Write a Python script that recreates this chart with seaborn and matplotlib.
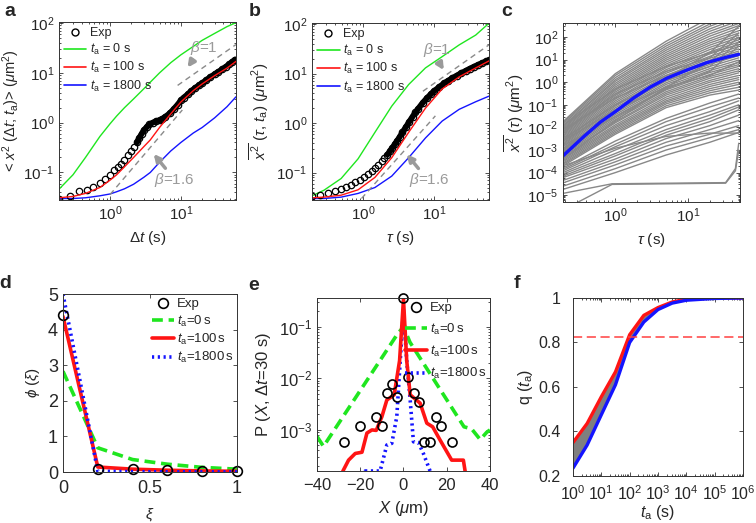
import matplotlib
matplotlib.use('Agg')
import matplotlib.pyplot as plt
from matplotlib.lines import Line2D
from matplotlib.ticker import LogLocator, FixedLocator, NullFormatter
import seaborn as sns
import pandas as pd
import numpy as np

# ---------------- data ----------------
GREEN = '#1fe61f'
RED = '#ff1414'
BLUE = '#1414ff'
GRAY = '#888888'
ARROW = '#9a9a9a'

# panel a: ensemble averaged MSD
a_exp_t = [0.19, 0.27, 0.37, 0.47, 0.58, 0.72, 0.85, 1.0, 1.15, 1.3, 1.45, 1.6, 1.8, 2.0, 2.2, 2.4,
           2.6, 2.8, 3.0, 3.3, 3.6, 4.0, 4.5, 5.0, 5.5, 6.0, 7.0, 8.0, 9.0, 10, 11, 12.5, 14, 16,
           18, 20, 23, 26, 30, 34, 38, 43, 48, 53, 58]
a_exp_v = [0.030, 0.034, 0.042, 0.045, 0.051, 0.062, 0.075, 0.09, 0.11, 0.13, 0.15, 0.18, 0.22,
           0.27, 0.33, 0.4, 0.5, 0.6, 0.7, 0.82, 0.92, 1.0, 1.07, 1.12, 1.2, 1.3, 1.55, 1.9, 2.3,
           2.8, 3.2, 3.7, 4.3, 5.0, 5.6, 6.2, 7.2, 8.2, 9.4, 10.5, 11.7, 13.2, 14.8, 16.5, 18.5]
a_t = [0.19, 0.3, 0.45, 0.72, 1.0, 1.24, 1.6, 2.15, 3.0, 3.7, 5.0, 7.2, 10, 15, 20, 30, 45, 60]
a_green = [0.046, 0.09, 0.2, 0.53, 0.95, 1.36, 2.0, 3.0, 4.8, 6.5, 10, 16, 23, 34, 45, 62, 85, 102]
a_red = [0.031, 0.033, 0.038, 0.05, 0.07, 0.09, 0.13, 0.2, 0.33, 0.45, 0.8, 1.5, 2.6, 4.4, 6.0,
         8.8, 12.5, 17]
a_blue = [0.030, 0.030, 0.031, 0.034, 0.037, 0.041, 0.047, 0.058, 0.08, 0.1, 0.16, 0.27, 0.4,
          0.62, 0.8, 1.25, 2.1, 3.3]
a_beta1 = ([9.0, 60], [5.6, 37])
a_beta16 = ([1.0, 10.5], [0.036, 1.8])

# panel b: time averaged MSD
b_exp_t = [0.19, 0.25, 0.32, 0.4, 0.48, 0.57, 0.67, 0.78, 0.9, 1.03, 1.17, 1.32, 1.48, 1.65, 1.83,
           2.0, 2.2, 2.4, 2.6, 2.8, 3.0, 3.3, 3.6, 4.0, 4.5, 5.0, 5.5, 6.0, 7.0, 8.0, 9.0, 10, 12,
           14, 16, 18, 21, 24, 28, 32, 37, 42, 48, 55, 60]
b_exp_v = [0.034, 0.036, 0.039, 0.042, 0.046, 0.051, 0.057, 0.064, 0.072, 0.082, 0.094, 0.108,
           0.125, 0.145, 0.168, 0.195, 0.23, 0.27, 0.32, 0.37, 0.43, 0.53, 0.65, 0.82, 1.07, 1.35,
           1.65, 1.95, 2.6, 3.2, 3.8, 4.4, 5.4, 6.4, 7.2, 8.0, 9.1, 10.1, 11.3, 12.5, 13.8, 15.0,
           16.3, 17.6, 18.5]
b_t = [0.19, 0.28, 0.49, 0.85, 1.47, 2.54, 4.4, 7.6, 13.1, 22.8, 39, 60]
b_green = [0.034, 0.044, 0.076, 0.19, 0.65, 2.2, 6.0, 13, 22, 38, 60, 104]
b_red = [0.031, 0.032, 0.035, 0.045, 0.08, 0.2, 0.65, 2.0, 4.9, 8.6, 13, 18]
b_blue = [0.030, 0.030, 0.032, 0.038, 0.05, 0.085, 0.2, 0.5, 1.1, 1.9, 2.7, 3.5]
b_beta1 = ([7.0, 60], [4.4, 38])
b_beta16 = ([0.95, 10.5], [0.03, 1.4])

# panel c: single trajectory time averaged MSDs, values at c_tau
c_tau = [0.19, 1, 5, 20, 50]
c_gray = [
    [0.018, 2.4, 65, 700, 2500], [0.016, 2.0, 50, 500, 1800], [0.014, 1.6, 40, 380, 1200],
    [0.012, 1.3, 32, 300, 900], [0.011, 1.1, 26, 230, 700], [0.0095, 0.9, 21, 180, 520],
    [0.0085, 0.75, 17, 140, 400], [0.0075, 0.62, 14, 110, 320], [0.0065, 0.52, 11.5, 85, 250],
    [0.0058, 0.44, 9.5, 68, 190], [0.005, 0.37, 7.8, 55, 150], [0.0044, 0.31, 6.4, 44, 120],
    [0.0039, 0.26, 5.3, 35, 95], [0.0034, 0.22, 4.4, 28, 75], [0.003, 0.18, 3.6, 22, 60],
    [0.0026, 0.15, 3.0, 18, 48], [0.0023, 0.125, 2.5, 14, 38], [0.002, 0.105, 2.0, 11.5, 30],
    [0.0018, 0.088, 1.7, 9.5, 24], [0.0016, 0.074, 1.4, 7.5, 19], [0.0014, 0.062, 1.15, 6.2, 15],
    [0.0012, 0.052, 0.95, 5, 12], [0.0011, 0.044, 0.8, 4, 9.5], [0.00095, 0.037, 0.66, 3.3, 7.5],
    [0.00085, 0.031, 0.55, 2.7, 6], [0.00075, 0.026, 0.46, 2.2, 5], [0.00065, 0.022, 0.38, 1.8, 4],
    [0.00058, 0.018, 0.32, 1.5, 3.2], [0.0005, 0.016, 0.27, 1.2, 2.6], [0.00044, 0.013, 0.22, 1.0, 2.0],
    [0.00039, 0.011, 0.18, 0.8, 1.6], [0.00034, 0.0095, 0.15, 0.65, 1.3], [0.0003, 0.008, 0.13, 0.52, 1.0],
    [0.00026, 0.0068, 0.11, 0.42, 0.8], [0.00023, 0.0058, 0.09, 0.34, 0.6], [0.0002, 0.005, 0.075, 0.27, 0.45],
    [0.003, 0.1, 1.2, 5, 60], [0.006, 0.3, 3, 12, 150], [0.001, 0.05, 1.5, 20, 300],
    [0.0015, 0.03, 0.5, 3, 40], [0.008, 0.2, 2, 8, 20], [0.0004, 0.02, 0.6, 8, 100],
    [0.0025, 0.06, 0.6, 2, 8], [0.012, 0.5, 5, 20, 45],
    [1.6e-4, 2.5e-3, 0.025, 0.12, 0.3], [1.4e-4, 1.8e-3, 0.018, 0.08, 0.2],
    [1.2e-4, 1.4e-3, 0.012, 0.05, 0.15], [1e-4, 1e-3, 0.008, 0.035, 0.1],
    [8.5e-5, 7e-4, 0.006, 0.025, 0.08], [7e-5, 5.5e-4, 0.0045, 0.018, 0.06],
    [6e-5, 4e-4, 0.0032, 0.012, 0.035], [4.5e-5, 3e-4, 0.0022, 0.008, 0.02],
    [3.5e-5, 2.2e-4, 0.0015, 0.005, 0.012], [2.5e-5, 1.5e-4, 0.001, 0.0035, 0.008],
    [1.8e-5, 1e-4, 6e-4, 0.0022, 0.006], [2e-4, 1.2e-3, 4e-3, 5.6e-3, 5.6e-3],
]
# trajectories with a plateau and a late hook (own lag times)
c_hook_tau = [[0.19, 0.9, 33, 45, 50], [0.27, 0.9, 33, 45, 50]]
c_hook_v = [[1.2e-5, 3.2e-5, 3.6e-5, 1.5e-4, 2e-3],
            [4e-6, 3e-5, 3.4e-5, 1.2e-4, 1e-3]]
c_mean_tau = [0.19, 0.37, 0.62, 1.0, 1.78, 3.0, 5.1, 10, 17.8, 33, 50]
c_mean_v = [5.5e-4, 4e-3, 0.017, 0.05, 0.2, 0.6, 1.5, 3.6, 7.2, 12.5, 17]

# panel d: phi(xi)
d_xi = [0, 0.2, 0.4, 0.6, 0.8, 1.0]
d_exp = [4.42, 0.08, 0.08, 0.05, 0.02, 0.02]
d_green = [2.83, 0.68, 0.35, 0.22, 0.13, 0.08]
d_red = [4.37, 0.14, 0.08, 0.05, 0.03, 0.02]
d_blue = [5.0, 0.02, 0.01, 0.005, 0.003, 0.002]

# panel e: displacement distribution
e_exp_x = [-27.7, -20.3, -12.6, -10.0, -7.7, -5.4, -2.9, 0, 2.3, 4.9, 7.4, 9.7, 12.3, 14.9, 17.4, 22.3]
e_exp_p = [5.9e-4, 1.2e-3, 1.8e-3, 1.2e-3, 5.3e-3, 7.7e-3, 4.3e-3, 0.36, 1.08e-2, 5.3e-3, 3.5e-3,
           5.9e-4, 5.9e-4, 1.8e-3, 1.2e-3, 5.9e-4]
e_green_x = [-40, -37, -3, 0, 3, 28, 31.5, 35.5, 38.5, 40]
e_green_p = [7.5e-4, 4.8e-4, 0.07, 0.1, 0.05, 1.15e-3, 1.05e-3, 6.5e-4, 9e-4, 1.0e-3]
e_red_x = [-29, -28, -25.4, -22.3, -19.2, -16.9, -14.6, -12.6, -10, -7.7, -4.3, -1.8, 0, 1.5,
           3.1, 7.7, 10.8, 13.5, 16.9, 22.3, 27.7, 28.5, 29.5]
e_red_p = [1e-4, 1.6e-4, 2.6e-4, 3.5e-4, 3.7e-4, 8.7e-4, 1e-3, 9.8e-4, 1.8e-3, 3.8e-3, 4.8e-3,
           0.022, 0.34, 0.022, 4.8e-3, 3.3e-3, 1.35e-3, 1.15e-3, 6.4e-4, 2.6e-4, 2.6e-4, 1.6e-4, 1e-4]
e_blue_x = [-20, -17.7, -10.8, -7.7, -5.4, -3.1, -1.5, 0, 1.5, 3.1, 4.6, 6.9, 9.2, 12.3, 14]
e_blue_p = [1e-4, 1.6e-4, 1.6e-4, 5.1e-4, 5.5e-4, 1.8e-3, 0.022, 0.21, 0.022, 3.8e-3, 5.9e-4,
            5.7e-4, 3.5e-4, 1.6e-4, 1e-4]

# panel f: q(t_a)
f_t = [1, 3.16, 10, 31.6, 100, 316, 1000, 3162, 1e4, 1e5, 1e6]
f_red = [0.35, 0.436, 0.556, 0.668, 0.835, 0.922, 0.957, 0.982, 0.995, 1.0, 1.0]
f_blue = [0.235, 0.339, 0.475, 0.61, 0.8, 0.892, 0.948, 0.977, 0.99, 0.998, 1.0]
f_level = 0.825

legend_labels = ['Exp', r'$t_{\rm a}$ = 0 s', r'$t_{\rm a}$ = 100 s', r'$t_{\rm a}$ = 1800 s']
legend_labels_tight = ['Exp', r'$t_{\rm a}$=0$\,$s', r'$t_{\rm a}$=100$\,$s', r'$t_{\rm a}$=1800$\,$s']

# ---------------- style ----------------
sns.set_style('ticks')
plt.rcParams['font.family'] = ['Liberation Sans', 'DejaVu Sans']
plt.rcParams['mathtext.fontset'] = 'custom'
plt.rcParams['mathtext.rm'] = 'Liberation Sans'
plt.rcParams['mathtext.it'] = 'Liberation Sans:italic'
plt.rcParams['mathtext.bf'] = 'Liberation Sans:bold'
plt.rcParams['font.size'] = 11
plt.rcParams['axes.linewidth'] = 0.7
plt.rcParams['axes.edgecolor'] = '#333333'

fig = plt.figure(figsize=(7.56, 5.23), dpi=100)


def new_axes(rect, ticksize=11):
    ax = fig.add_axes(rect)
    ax.tick_params(which='both', direction='in', top=True, right=True, labelsize=ticksize,
                   width=0.6, color='#333333')
    ax.tick_params(which='major', length=3)
    ax.tick_params(which='minor', length=1.6)
    return ax


def msd_panel(ax, exp_t, exp_v, t, green, red, blue, beta1, beta16, band_from):
    sns.lineplot(x=t, y=green, ax=ax, color=GREEN, lw=1, errorbar=None)
    sns.lineplot(x=t, y=blue, ax=ax, color=BLUE, lw=1, errorbar=None)
    sns.lineplot(x=beta1[0], y=beta1[1], ax=ax, color='#8a8a8a', lw=1, ls=(0, (4, 3)), errorbar=None)
    sns.lineplot(x=beta16[0], y=beta16[1], ax=ax, color='#8a8a8a', lw=1, ls=(0, (4, 3)), errorbar=None)
    et = np.array(exp_t)
    ev = np.array(exp_v)
    band = et >= band_from
    sns.lineplot(x=et[band], y=ev[band], ax=ax, color='k', lw=4.2, errorbar=None)
    sns.lineplot(x=et, y=ev, ax=ax, ls='none', marker='o', ms=4.6, mfc='none', mec='k', mew=0.9,
                 errorbar=None)
    sns.lineplot(x=t, y=red, ax=ax, color=RED, lw=1, errorbar=None)
    ax.set_xscale('log')
    ax.set_yscale('log')
    ax.set_xlim(0.19, 60)
    ax.set_ylim(0.028, 105)
    handles = [Line2D([], [], ls='none', marker='o', ms=5, mfc='none', mec='k', mew=1),
               Line2D([], [], color=GREEN, lw=1.2), Line2D([], [], color=RED, lw=1.2),
               Line2D([], [], color=BLUE, lw=1.2)]
    ax.legend(handles, legend_labels, loc='upper left', frameon=False, fontsize=9,
              handlelength=1.8, handletextpad=0.3, labelspacing=0.25, borderaxespad=0.2,
              borderpad=0.2)


# ---------------- panel a ----------------
ax_a = new_axes([0.078, 0.6176, 0.2341, 0.3403])
msd_panel(ax_a, a_exp_t, a_exp_v, a_t, a_green, a_red, a_blue, a_beta1, a_beta16, 2.4)
ax_a.set_xlabel(r'$\Delta t$ (s)')
ax_a.set_ylabel(r'< $x^2$ ($\Delta t$; $t_{\rm a}$)> ($\mu$m$^2$)', fontsize=10.5, labelpad=1)
ax_a.annotate('', xy=(11.8, 11.5), xytext=(15.5, 20),
              arrowprops=dict(arrowstyle='-|>', color=ARROW, lw=2.5, mutation_scale=10))
ax_a.text(21, 31, r'$\beta$=1', color=ARROW, fontsize=11, ha='center', va='center')
ax_a.annotate('', xy=(3.9, 0.26), xytext=(6.4, 0.11),
              arrowprops=dict(arrowstyle='-|>', color=ARROW, lw=2.5, mutation_scale=10))
ax_a.text(8.0, 0.072, r'$\beta$=1.6', color=ARROW, fontsize=11, ha='center', va='center')

# ---------------- panel b ----------------
ax_b = new_axes([0.4127, 0.6176, 0.2341, 0.3384])
msd_panel(ax_b, b_exp_t, b_exp_v, b_t, b_green, b_red, b_blue, b_beta1, b_beta16, 2.2)
ax_b.set_xlabel(r'$\tau$ (s)')
ax_b.set_ylabel(r'$\overline{x^2}$ ($\tau$, $t_{\rm a}$) ($\mu$m$^2$)')
ax_b.annotate('', xy=(14.5, 10.5), xytext=(11.5, 18),
              arrowprops=dict(arrowstyle='-|>', color=ARROW, lw=2.5, mutation_scale=10))
ax_b.text(11, 30, r'$\beta$=1', color=ARROW, fontsize=11, ha='center', va='center')
ax_b.annotate('', xy=(3.9, 0.26), xytext=(6.4, 0.11),
              arrowprops=dict(arrowstyle='-|>', color=ARROW, lw=2.5, mutation_scale=10))
ax_b.text(8.5, 0.07, r'$\beta$=1.6', color=ARROW, fontsize=11, ha='center', va='center')

# ---------------- panel c ----------------
ax_c = new_axes([0.7447, 0.6138, 0.2341, 0.3423])
rows = []
for i, vals in enumerate(c_gray):
    for tau, v in zip(c_tau, vals):
        rows.append((i, tau, v))
for j, (taus, vals) in enumerate(zip(c_hook_tau, c_hook_v)):
    for tau, v in zip(taus, vals):
        rows.append((100 + j, tau, v))
df_c = pd.DataFrame(rows, columns=['traj', 'tau', 'msd'])
sns.lineplot(data=df_c, x='tau', y='msd', units='traj', estimator=None, color=GRAY, lw=1.0,
             ax=ax_c, sort=True)
sns.lineplot(x=c_mean_tau, y=c_mean_v, ax=ax_c, color=BLUE, lw=2.4, errorbar=None)
ax_c.set_xscale('log')
ax_c.set_yscale('log')
ax_c.set_xlim(0.19, 52)
ax_c.set_ylim(5e-6, 420)
ax_c.yaxis.set_major_locator(LogLocator(base=10, numticks=20))
ax_c.yaxis.set_minor_locator(LogLocator(base=10, subs=np.arange(2, 10) * 0.1, numticks=20))
ax_c.yaxis.set_minor_formatter(NullFormatter())
ax_c.set_xlabel(r'$\tau$ (s)')
ax_c.set_ylabel(r'$\overline{x^2}$ ($\tau$) ($\mu$m$^2$)', labelpad=1)

# ---------------- panel d ----------------
ax_d = new_axes([0.0833, 0.0975, 0.2302, 0.3403], ticksize=13)
sns.lineplot(x=d_xi, y=d_green, ax=ax_d, color=GREEN, lw=2.6, ls=(0, (3, 1.6)), errorbar=None)
sns.lineplot(x=d_xi, y=d_red, ax=ax_d, color=RED, lw=2.6, errorbar=None)
sns.lineplot(x=d_xi, y=d_blue, ax=ax_d, color=BLUE, lw=2.6, ls=(0, (0.6, 1.0)), errorbar=None)
sns.lineplot(x=d_xi, y=d_exp, ax=ax_d, ls='none', marker='o', ms=7, mfc='none', mec='k', mew=1.2,
             errorbar=None, clip_on=False)
ax_d.set_xlim(0, 1)
ax_d.set_ylim(0, 5)
ax_d.xaxis.set_major_locator(FixedLocator([0, 0.5, 1]))
ax_d.set_xticklabels(['0', '0.5', '1'])
ax_d.yaxis.set_major_locator(FixedLocator([0, 1, 2, 3, 4, 5]))
ax_d.set_yticklabels(['0', '1', '2', '3', '4', '5'])
ax_d.tick_params(axis='x', pad=6)
ax_d.set_xlabel(r'$\xi$', labelpad=6, fontsize=11)
ax_d.set_ylabel(r'$\phi$ ($\xi$)', fontsize=11)
handles_thick = [Line2D([], [], ls='none', marker='o', ms=7, mfc='none', mec='k', mew=1.2),
                 Line2D([], [], color=GREEN, lw=2.6, ls=(0, (3, 1.6))),
                 Line2D([], [], color=RED, lw=2.6),
                 Line2D([], [], color=BLUE, lw=2.6, ls=(0, (0.6, 1.0)))]
ax_d.legend(handles_thick, legend_labels_tight, loc='upper right', frameon=False, fontsize=9.5,
            handlelength=1.7, handletextpad=0.2, labelspacing=0.25, borderaxespad=0.1,
            borderpad=0.2)

# ---------------- panel e ----------------
ax_e = new_axes([0.4193, 0.0994, 0.2288, 0.3308], ticksize=12)
sns.lineplot(x=e_green_x, y=e_green_p, ax=ax_e, color=GREEN, lw=2.6, ls=(0, (3, 1.6)), errorbar=None)
sns.lineplot(x=e_blue_x, y=e_blue_p, ax=ax_e, color=BLUE, lw=2.6, ls=(0, (0.6, 1.0)), errorbar=None)
sns.lineplot(x=e_red_x, y=e_red_p, ax=ax_e, color=RED, lw=2.6, errorbar=None)
sns.lineplot(x=e_exp_x, y=e_exp_p, ax=ax_e, ls='none', marker='o', ms=6.5, mfc='none', mec='k',
             mew=1.2, errorbar=None, clip_on=False)
ax_e.set_yscale('log')
ax_e.set_xlim(-40, 40)
ax_e.set_ylim(1.6e-4, 0.36)
ax_e.xaxis.set_major_locator(FixedLocator([-40, -20, 0, 20, 40]))
ax_e.set_xticklabels(['\u221240', '\u221220', '0', '20', '40'])
ax_e.tick_params(axis='x', pad=5)
ax_e.set_xlabel(r'$X$ ($\mu$m)', fontsize=12)
ax_e.set_ylabel(r'P ($X$, $\Delta t$=30 s)', fontsize=12)
ax_e.legend(handles_thick, legend_labels_tight, loc='upper right', frameon=False, fontsize=9.5,
            handlelength=1.7, handletextpad=0.2, labelspacing=0.55, borderaxespad=0.1,
            borderpad=0.2)

# ---------------- panel f ----------------
ax_f = new_axes([0.7579, 0.0899, 0.2249, 0.3403], ticksize=11.5)
ax_f.fill_between(f_t, f_blue, f_red, color='#7f7f7f', lw=0)
sns.lineplot(x=f_t, y=f_red, ax=ax_f, color=RED, lw=2.4, errorbar=None)
sns.lineplot(x=f_t, y=f_blue, ax=ax_f, color=BLUE, lw=2.4, errorbar=None)
ax_f.axhline(f_level, color='#ff4040', lw=1.1, ls=(0, (6, 3)))
ax_f.set_xscale('log')
ax_f.set_xlim(1, 1e6)
ax_f.set_ylim(0.2, 1.0)
ax_f.xaxis.set_major_locator(LogLocator(base=10, numticks=10))
ax_f.xaxis.set_minor_locator(LogLocator(base=10, subs=np.arange(2, 10) * 0.1, numticks=10))
ax_f.xaxis.set_minor_formatter(NullFormatter())
ax_f.yaxis.set_major_locator(FixedLocator([0.2, 0.4, 0.6, 0.8, 1.0]))
ax_f.set_yticklabels(['0.2', '0.4', '0.6', '0.8', '1'])
ax_f.tick_params(axis='x', pad=6)
ax_f.tick_params(axis='y', pad=9)
ax_f.set_xlabel(r'$t_{\rm a}$ (s)', fontsize=11.5, labelpad=0)
ax_f.set_ylabel(r'q ($t_{\rm a}$)', fontsize=11.5, labelpad=2)

# panel letters
for letter, x, y in [('a', 10, 11), ('b', 255, 11), ('c', 507, 11),
                     ('d', 5, 283), ('e', 254, 286), ('f', 517, 283)]:
    fig.text(x / 756, 1 - y / 523, letter, fontsize=14, fontweight='bold', ha='center', va='center')

fig.savefig('out.png', dpi=100)
